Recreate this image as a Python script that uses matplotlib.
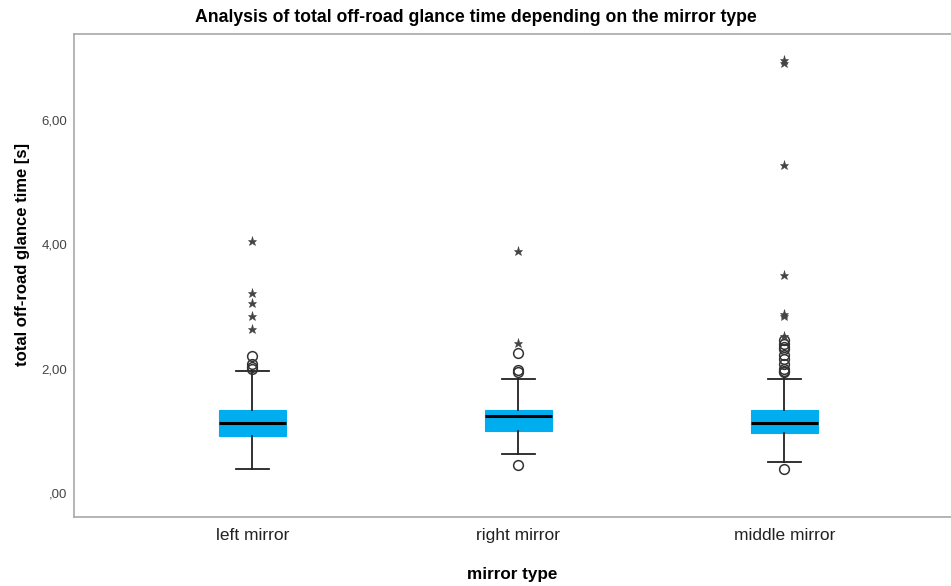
import matplotlib.pyplot as plt
from matplotlib.ticker import FuncFormatter

plt.rcParams['font.family'] = ['Liberation Sans', 'DejaVu Sans']

categories = ['left mirror', 'right mirror', 'middle mirror']
medians = [1.13, 1.235, 1.13]
q1 = [0.92, 1.00, 0.97]
q3 = [1.34, 1.34, 1.34]
whis_low = [0.38, 0.63, 0.50]
whis_high = [1.96, 1.84, 1.84]

# outliers (circles) and extreme values (stars)
outliers = [
    [2.20, 2.08, 2.03, 1.99],
    [2.25, 1.97, 1.94, 0.45],
    [2.46, 2.40, 2.35, 2.31, 2.22, 2.15, 2.08, 1.99, 1.96, 1.94, 0.39],
]
extremes = [
    [4.05, 3.22, 3.05, 2.85, 2.64],
    [3.89, 2.42],
    [6.97, 6.93, 5.28, 3.51, 2.88, 2.84, 2.52],
]

positions = [1, 2, 3]
box_color = '#00AEEF'

fig = plt.figure(figsize=(9.51, 5.86), dpi=100)
ax = fig.add_axes([74 / 951, 1 - 517 / 586, 1 - 74 / 951, (517 - 34) / 586])

stats = []
for i in range(3):
    stats.append({
        'med': medians[i], 'q1': q1[i], 'q3': q3[i],
        'whislo': whis_low[i], 'whishi': whis_high[i],
        'fliers': outliers[i], 'label': categories[i],
    })

ax.bxp(stats, positions=positions, widths=0.25, capwidths=0.125,
       patch_artist=True, showfliers=True,
       boxprops=dict(facecolor=box_color, edgecolor=box_color, lw=0.8),
       medianprops=dict(color='black', lw=2.2),
       whiskerprops=dict(color='#222222', lw=1.3),
       capprops=dict(color='#222222', lw=1.3),
       flierprops=dict(marker='o', markerfacecolor='none',
                       markeredgecolor='#333333', markersize=7, mew=1.1))

for pos, vals in zip(positions, extremes):
    ax.plot([pos] * len(vals), vals, ls='none', marker='*',
            markersize=6.5, color='#444444', markeredgewidth=0.4)

ax.set_xlim(0.329, 3.627)
ax.set_ylim(-0.39, 7.39)
ax.set_yticks([0, 2, 4, 6])
ax.yaxis.set_major_formatter(FuncFormatter(
    lambda v, p: ',00' if v == 0 else f'{v:.2f}'.replace('.', ',')))
ax.tick_params(axis='y', length=0, labelsize=9.5, labelcolor='#444444', pad=5)
ax.tick_params(axis='x', length=0, labelsize=12.5, labelcolor='#222222', pad=8)
ax.set_xticks(positions)
ax.set_xticklabels(categories)

for side in ['left', 'bottom', 'top']:
    ax.spines[side].set_color('#A8A8A8')
    ax.spines[side].set_linewidth(1.2)
ax.spines['right'].set_visible(False)

ax.set_xlabel('mirror type', fontsize=12.3, fontweight='bold', labelpad=17)
fig.text(23 / 951, 1 - 254 / 586, 'total off-road glance time [s]',
         rotation=90, ha='center', va='center', fontsize=12, fontweight='bold')
fig.text(476 / 951, 1 - 17 / 586,
         'Analysis of total off-road glance time depending on the mirror type',
         ha='center', va='center', fontsize=12.7, fontweight='bold')

fig.savefig('out.png', dpi=100)
